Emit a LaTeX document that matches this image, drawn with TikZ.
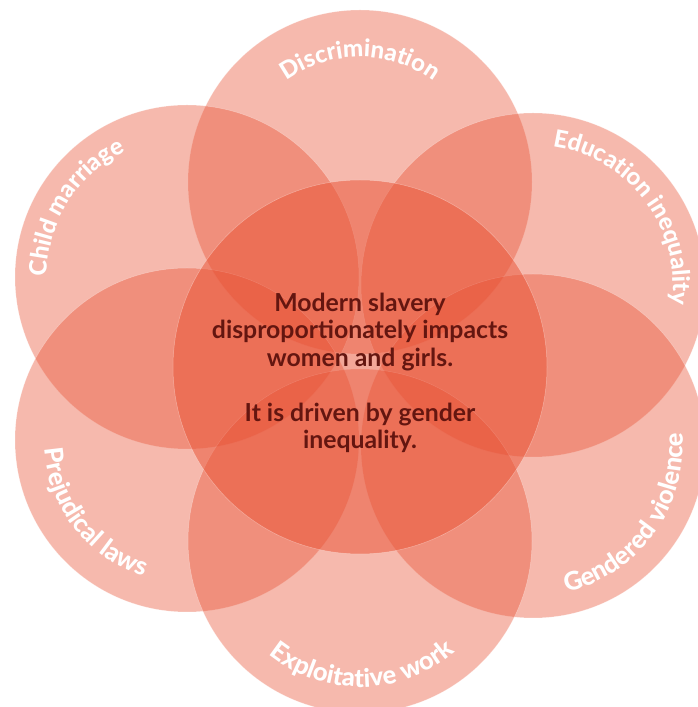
\documentclass[tikz,border=0pt]{standalone}
\usepackage{fontspec}
\setmainfont{Lato}
\IfFontExistsTF{Lato Heavy}
  {\newfontfamily\lblface{Lato Heavy}
   \newfontfamily\lblwide{Lato Heavy}[LetterSpace=4]}
  {\newfontfamily\lblface{Lato}[UprightFont=*-Bold, FakeBold=1]
   \newfontfamily\lblwide{Lato}[UprightFont=*-Bold, FakeBold=1, LetterSpace=4]}
\usetikzlibrary{decorations.text}
\definecolor{petalred}{RGB}{232,80,50}
\definecolor{msgred}{RGB}{100,22,16}
\newcommand\lblfont{\lblface\fontsize{24}{24}\selectfont}
\newcommand\lblfontlow{\lblwide\fontsize{25.5}{25.5}\selectfont}

\begin{document}
\begin{tikzpicture}[x=1pt, y=1pt,
    petal/.style={circle, inner sep=0pt, outer sep=0pt, minimum size=344pt,
      fill=petalred, fill opacity=0.4, draw=white, draw opacity=0.35, line width=0.5pt},
    hub/.style={petal, minimum size=374pt, fill opacity=0.5},
    lbl/.style={decorate, decoration={text along path, text align=center,
      text color=white, text={|\lblfont|#1}}},
    lbllow/.style={decorate, decoration={text along path, text align=center,
      text color=white, text={|\lblfontlow|#1}}}]
  \useasboundingbox (0,0) rectangle (697,707);

  % six causes round the hub
  \node[petal] (discr) at (360,525) {};
  \node[petal] (child) at (187,430) {};
  \node[petal] (edu)   at (533,422) {};
  \node[petal] (prej)  at (187,267) {};
  \node[petal] (gend)  at (533,261) {};
  \node[petal] (expl)  at (360,166) {};
  \node[hub]   (hub)   at (360,340) {};

  % upper labels run clockwise, lower ones anticlockwise
  \path[lbl={Discrimination}] ([shift={(160:125pt)}]discr.center) arc[start angle=160, end angle=20, radius=125pt];
  \path[lbl={Child marriage}] ([shift={(218:140pt)}]child.center) arc[start angle=218, end angle=78, radius=140pt];
  \path[lbl={Education inequality}] ([shift={(107:140pt)}]edu.center) arc[start angle=107, end angle=-33, radius=140pt];
  \path[lbllow={Prejudical laws}] ([shift={(146:143pt)}]prej.center) arc[start angle=146, end angle=290, radius=143pt];
  \path[lbllow={Exploitative work}] ([shift={(200:146pt)}]expl.center) arc[start angle=200, end angle=342, radius=146pt];
  \path[lbllow={Gendered violence}] ([shift={(254:150pt)}]gend.center) arc[start angle=254, end angle=394, radius=150pt];

  \node[align=center, text=msgred, font=\fontsize{24.8}{27.5}\selectfont\bfseries] (msg) at (360,334)
    {Modern slavery\\disproportionately impacts\\women and girls.\\[27.5pt]It is driven by gender\\inequality.};
\end{tikzpicture}
\end{document}
